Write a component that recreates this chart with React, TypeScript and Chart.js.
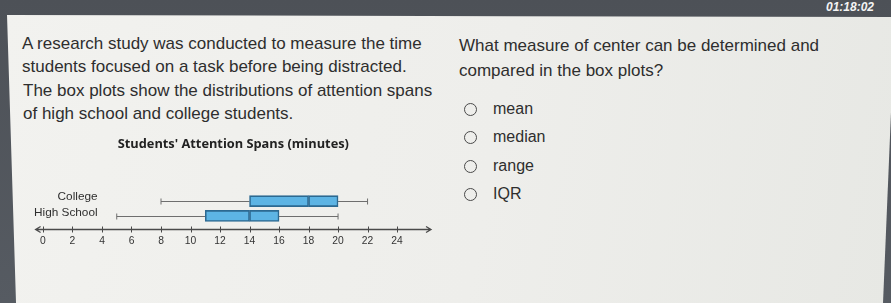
import React, { useEffect, useRef } from "react";
import { Chart, registerables } from "chart.js";

Chart.register(...registerables);

// ---- data ----
const categories = ["College", "High School"];
const minutesMin = [8, 5];
const minutesQ1 = [14, 11];
const minutesMedian = [18, 14];
const minutesQ3 = [20, 16];
const minutesMax = [22, 20];
const tickValues = [0, 2, 4, 6, 8, 10, 12, 14, 16, 18, 20, 22, 24];
const tickLabels = ["0", "2", "4", "6", "8", "10", "12", "14", "16", "18", "20", "22", "24"];
const chartTitle = "Students' Attention Spans (minutes)";

const leftLines = [
  "A research study was conducted to measure the time",
  "students focused on a task before being distracted.",
  "The box plots show the distributions of attention spans",
  "of high school and college students.",
];
const questionLines = [
  "What measure of center can be determined and",
  "compared in the box plots?",
];
const choices = ["mean", "median", "range", "IQR"];
const clockText = "01:18:02";

const BOX_FILL = "#5db4e4";
const BOX_BORDER = "#2c6991";
const WHISKER = "#6e6e6e";
const AXIS = "#4a4a4a";

const n = categories.length;
const rowOf = (i: number) => n - 1 - i;

const boxPlugin = {
  id: "boxExtras",
  beforeDatasetsDraw(chart: any) {
    const { ctx, chartArea } = chart;
    const xs = chart.scales.x;
    const ys = chart.scales.y;
    ctx.save();
    // x axis line with arrows
    const ay = Math.round(chartArea.bottom) + 0.5;
    const x0 = chartArea.left;
    const x1 = chartArea.right;
    ctx.strokeStyle = AXIS;
    ctx.lineWidth = 1.3;
    ctx.beginPath();
    ctx.moveTo(x0, ay);
    ctx.lineTo(x1, ay);
    ctx.moveTo(x0 + 5, ay - 3);
    ctx.lineTo(x0, ay);
    ctx.lineTo(x0 + 5, ay + 3);
    ctx.moveTo(x1 - 5, ay - 3);
    ctx.lineTo(x1, ay);
    ctx.lineTo(x1 - 5, ay + 3);
    ctx.stroke();
    ctx.lineWidth = 1;
    ctx.beginPath();
    for (const t of xs.ticks) {
      const px = Math.round(xs.getPixelForValue(t.value)) + 0.5;
      ctx.moveTo(px, ay - 3);
      ctx.lineTo(px, ay + 3);
    }
    ctx.stroke();

    // whiskers
    ctx.strokeStyle = WHISKER;
    ctx.lineWidth = 1;
    for (let i = 0; i < n; i++) {
      const cy = Math.round(ys.getPixelForValue(rowOf(i))) + 0.5;
      const pMin = xs.getPixelForValue(minutesMin[i]);
      const pQ1 = xs.getPixelForValue(minutesQ1[i]);
      const pQ3 = xs.getPixelForValue(minutesQ3[i]);
      const pMax = xs.getPixelForValue(minutesMax[i]);
      ctx.beginPath();
      ctx.moveTo(pMin, cy);
      ctx.lineTo(pQ1, cy);
      ctx.moveTo(pQ3, cy);
      ctx.lineTo(pMax, cy);
      ctx.moveTo(pMin, cy - 3);
      ctx.lineTo(pMin, cy + 3);
      ctx.moveTo(pMax, cy - 3);
      ctx.lineTo(pMax, cy + 3);
      ctx.stroke();
    }

    // category labels
    ctx.fillStyle = "#2e2e2e";
    ctx.font = "11.8px 'Liberation Sans', Arial, sans-serif";
    ctx.textAlign = "right";
    ctx.textBaseline = "middle";
    for (let i = 0; i < n; i++) {
      const cy = ys.getPixelForValue(rowOf(i));
      ctx.fillText(categories[i], chartArea.left + 62, cy - 3 - (i === 0 ? 1 : 0));
    }
    ctx.restore();
  },
};

function BoxChart() {
  const ref = useRef<HTMLCanvasElement | null>(null);
  useEffect(() => {
    if (!ref.current) return;
    const common = {
      backgroundColor: BOX_FILL,
      borderColor: BOX_BORDER,
      borderWidth: 1.6,
      borderSkipped: false,
      barThickness: 11,
      grouped: false,
    };
    const chart = new Chart(ref.current, {
      type: "bar",
      data: {
        datasets: [
          {
            ...common,
            label: "Q1 to median",
            data: categories.map((_, i) => ({ y: rowOf(i), x: [minutesQ1[i], minutesMedian[i]] })),
          },
          {
            ...common,
            label: "median to Q3",
            data: categories.map((_, i) => ({ y: rowOf(i), x: [minutesMedian[i], minutesQ3[i]] })),
          },
        ] as any,
      },
      options: {
        animation: false,
        responsive: true,
        maintainAspectRatio: false,
        indexAxis: "y",
        layout: { padding: { top: 9, left: 15.6, right: 19, bottom: 8 } },
        plugins: {
          legend: { display: false },
          tooltip: { enabled: false },
          title: {
            display: true,
            text: chartTitle,
            fullSize: false,
            color: "#222",
            font: { family: "'Open Sans', sans-serif", weight: "bold", size: 12.8 },
            padding: { top: 0, bottom: 34 },
          },
        },
        scales: {
          x: {
            type: "linear",
            min: -0.5,
            max: 26.3,
            offset: false,
            grid: { display: false, drawTicks: false },
            border: { display: false },
            afterBuildTicks: (scale: any) => {
              scale.ticks = tickValues.map((v) => ({ value: v }));
            },
            ticks: {
              padding: 6,
              color: "#333",
              font: { family: "'Liberation Sans', Arial, sans-serif", size: 10.3 },
              callback: (v: any) => {
                const k = tickValues.indexOf(Number(v));
                return k >= 0 ? tickLabels[k] : "";
              },
              maxRotation: 0,
              autoSkip: false,
            },
          },
          y: {
            type: "linear",
            min: -0.86,
            max: 2,
            offset: false,
            grace: 0,
            bounds: "data",
            display: false,
          },
        },
      } as any,
      plugins: [boxPlugin],
    });
    return () => chart.destroy();
  }, []);
  return <canvas ref={ref} />;
}

const textFont = "'Liberation Sans', Arial, sans-serif";

export default function App() {
  return (
    <div
      style={{
        position: "fixed",
        left: 0,
        top: 0,
        width: 891,
        height: 303,
        overflow: "hidden",
        background: "linear-gradient(180deg, #4d5157 0%, #565b62 100%)",
        fontFamily: textFont,
      }}
    >
      <div
        style={{
          position: "absolute",
          left: 826,
          top: 0,
          color: "#f4f4f4",
          fontSize: 12,
          lineHeight: "14px",
          fontStyle: "italic",
          fontWeight: "bold",
          whiteSpace: "nowrap",
        }}
      >
        {clockText}
      </div>
      <div
        style={{
          position: "absolute",
          left: 0,
          top: 0,
          width: 891,
          height: 303,
          clipPath: "polygon(7px 15px, 895px 17px, 883px 303px, 16px 303px)",
          background: "linear-gradient(100deg, #f2f2ef 0%, #eeeeeb 55%, #e7e8e4 100%)",
        }}
      />
      {leftLines.map((t, i) => (
        <div
          key={"l" + i}
          style={{
            position: "absolute",
            left: 22 + (i >= 2 ? 1 : 0),
            top: 34 + i * 23.3,
            fontSize: 17,
            lineHeight: "20px",
            color: "#2e2e2e",
            whiteSpace: "nowrap",
          }}
        >
          {t}
        </div>
      ))}
      {questionLines.map((t, i) => (
        <div
          key={"q" + i}
          style={{
            position: "absolute",
            left: 459,
            top: 36 + i * 25,
            fontSize: 17,
            lineHeight: "20px",
            color: "#2e2e2e",
            whiteSpace: "nowrap",
          }}
        >
          {t}
        </div>
      ))}
      {choices.map((t, i) => (
        <React.Fragment key={"c" + i}>
          <div
            style={{
              position: "absolute",
              left: 464,
              top: 103 + i * 28.3,
              width: 11,
              height: 11,
              borderRadius: "50%",
              border: "1.6px solid #4a4a4a",
              boxSizing: "content-box",
            }}
          />
          <div
            style={{
              position: "absolute",
              left: 493,
              top: 99 + i * 28.3,
              fontSize: 16,
              lineHeight: "20px",
              color: "#2e2e2e",
              whiteSpace: "nowrap",
            }}
          >
            {t}
          </div>
        </React.Fragment>
      ))}
      <div style={{ position: "absolute", left: 20, top: 128, width: 430, height: 133 }}>
        <BoxChart />
      </div>
    </div>
  );
}
